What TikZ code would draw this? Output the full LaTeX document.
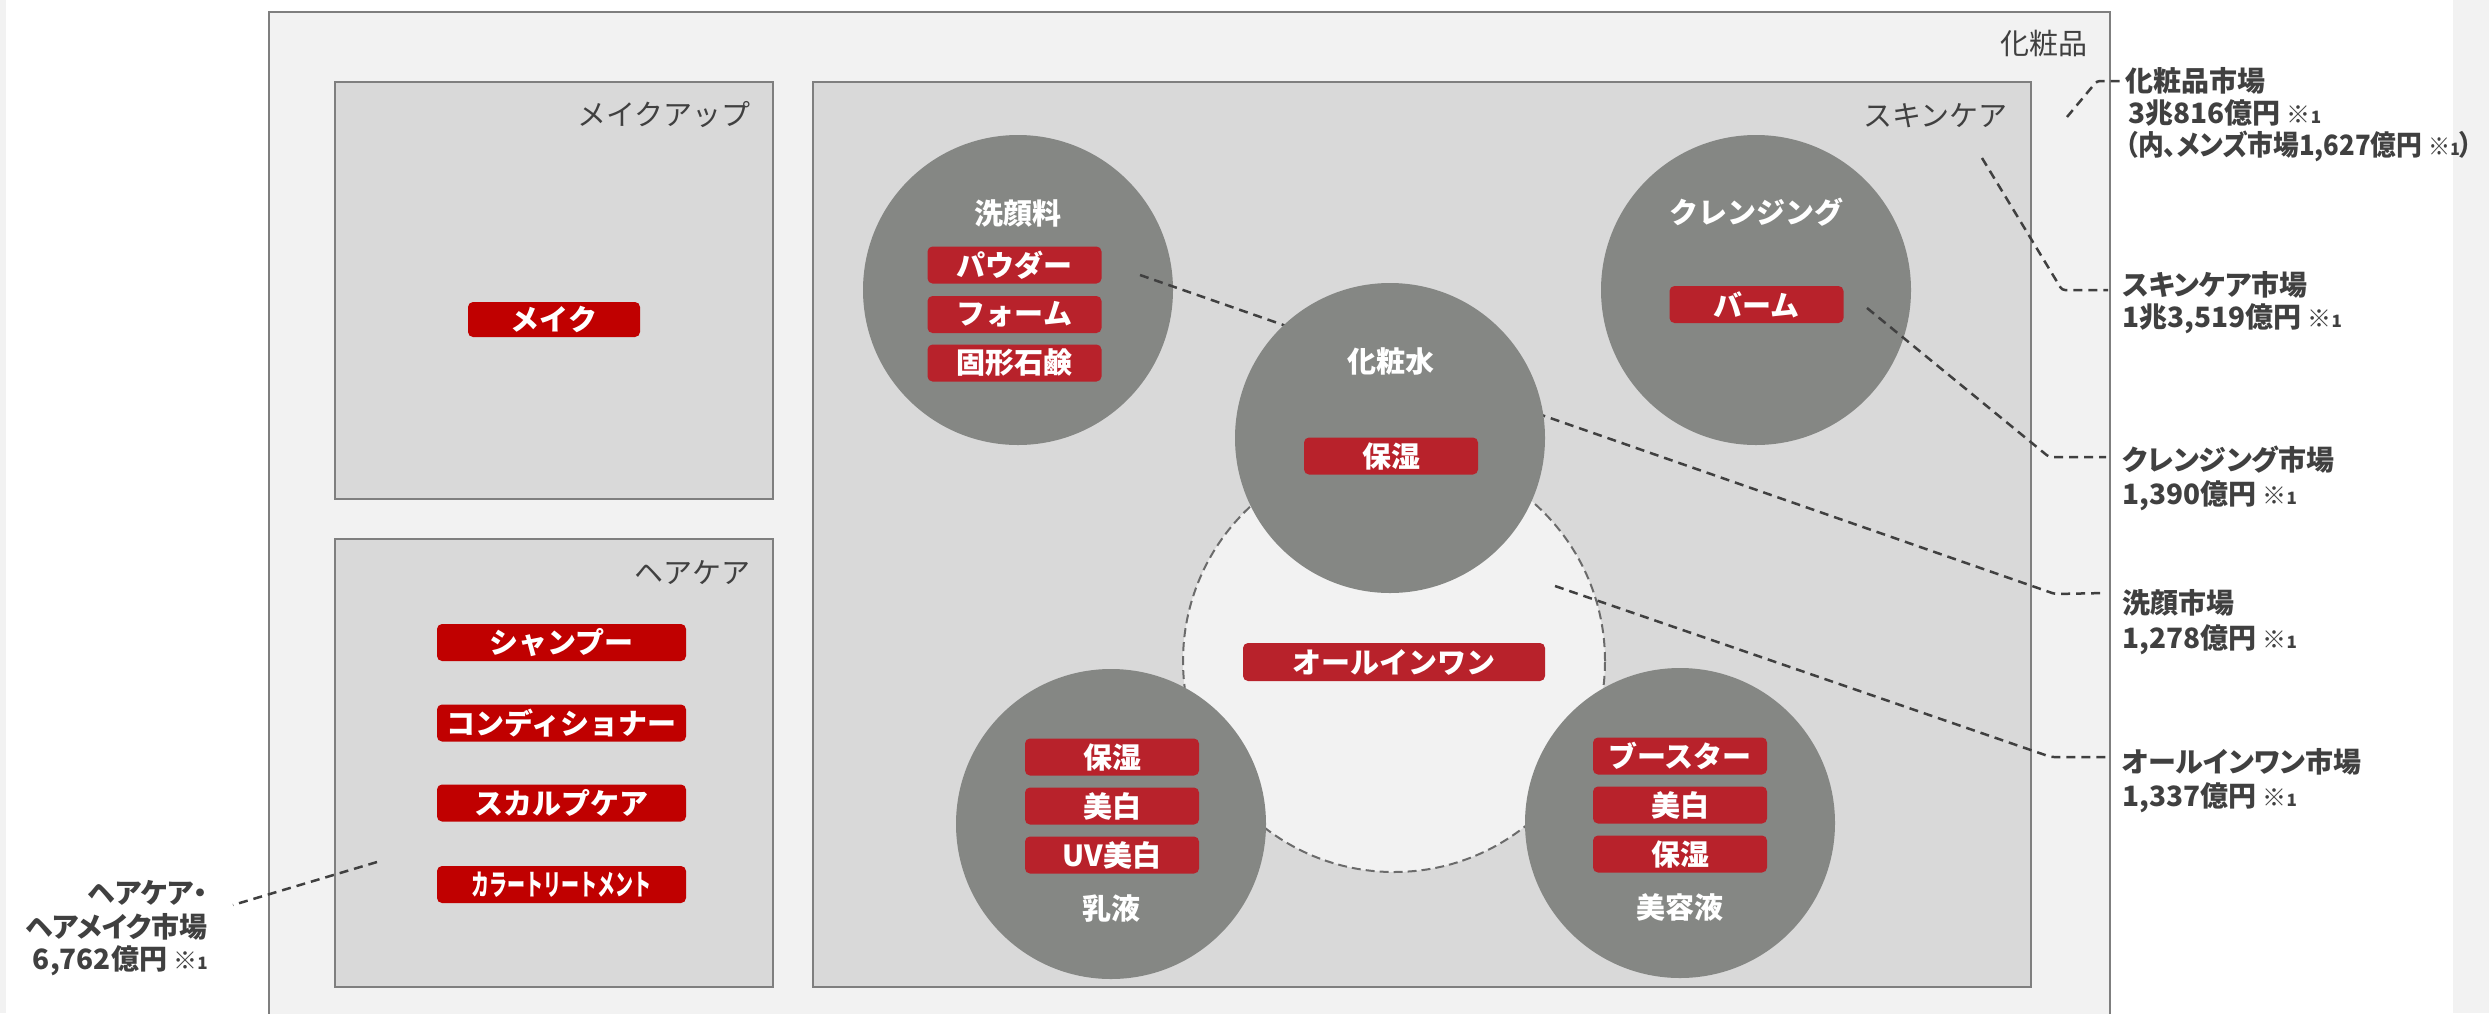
\documentclass[tikz,border=0pt]{standalone}
\usepackage{fontspec}
\usepackage{graphicx}
\setmainfont{Noto Sans CJK JP}
\newfontfamily\jpp{Noto Sans CJK JP}[RawFeature=+palt]
\definecolor{outerfill}{HTML}{F2F2F2}
\definecolor{boxfill}{HTML}{D9D9D9}
\definecolor{boxline}{HTML}{7F7F7F}
\definecolor{txtgrey}{HTML}{404040}
\definecolor{circfill}{HTML}{858784}
\definecolor{dashgrey}{HTML}{6B6B6B}
\definecolor{redA}{HTML}{B8222B}
\definecolor{redB}{HTML}{C00000}
\newcommand\kome{{\fontsize{24}{24}\selectfont ※}{\fontsize{17}{17}\selectfont 1}}
\begin{document}
\begin{tikzpicture}[x=1pt,y=-1pt,
  panel/.style={draw=boxline, line width=2.5pt, fill=boxfill, rectangle, inner sep=0pt},
  circ/.style={circle, fill=circfill, draw=none, minimum size=310pt, inner sep=0pt},
  rbox/.style={fill=redA, rounded corners=5pt, text=white, font=\bfseries\fontsize{29}{29}\selectfont, minimum width=174pt, minimum height=37pt, inner sep=0pt},
  hbox/.style={rbox, fill=redB, minimum width=249pt},
  boxlab/.style={text=txtgrey, font=\fontsize{29}{29}\selectfont, inner sep=0pt, anchor=base east},
  ctitle/.style={text=white, font=\bfseries\fontsize{29}{29}\selectfont, inner sep=0pt, anchor=base},
  mkt/.style={text=txtgrey, font=\jpp\bfseries\fontsize{28}{28}\selectfont, inner sep=0pt, anchor=base west},
  mktr/.style={mkt, anchor=base east},
  leader/.style={draw=txtgrey, line width=2.5pt, dash pattern=on 9pt off 6pt, rounded corners=3pt}]
\useasboundingbox (0,0) rectangle (2489,1013);
\clip (0,0) rectangle (2489,1013);
% background
\fill[white] (0,0) rectangle (2489,1013);
\fill[outerfill] (0,0) rectangle (6,1013);
\fill[outerfill] (2453,0) rectangle (2489,1013);
% outer box
\node[draw=boxline, line width=2pt, fill=outerfill, minimum width=1841pt, minimum height=1028pt, inner sep=0pt] (outer) at (1189.5,526) {};
\node[boxlab] (outerlab) at (2088,54) {化粧品};
% panels
\node[panel, minimum width=438pt, minimum height=417pt] (makeup) at (554,290.5) {};
\node[boxlab] (makeuplab) at (751,125) {メイクアップ};
\node[panel, minimum width=438pt, minimum height=448pt] (hair) at (554,763) {};
\node[boxlab] (hairlab) at (751,583) {ヘアケア};
\node[panel, minimum width=1218pt, minimum height=905pt] (skin) at (1422,534.5) {};
\node[boxlab] (skinlab) at (2008,126) {スキンケア};
% all-in-one dashed circle
\node[circle, draw=dashgrey, dash pattern=on 9pt off 5pt, line width=2pt, fill=outerfill, minimum size=422pt, inner sep=0pt] (allin) at (1394,661) {};
% circles
\node[circ] (sengan) at (1018,290) {};
\node[circ] (cleans) at (1756,290) {};
\node[circ] (nyueki) at (1111,824) {};
\node[circ] (biyou) at (1680,823) {};
% leader coordinates
\coordinate (lk0) at (2067,117);
\coordinate (lk1) at (2097,81);
\coordinate (lk2) at (2124,81);
\coordinate (ls0) at (1982,158);
\coordinate (ls1) at (2062,290);
\coordinate (ls2) at (2108,290);
\coordinate (lc0) at (1867,308);
\coordinate (lc1) at (2049,457);
\coordinate (lc2) at (2106,457);
\coordinate (lf0) at (1140,275);
\coordinate (lf1) at (2055,594);
\coordinate (lf2) at (2106,593);
\coordinate (la0) at (1555,586);
\coordinate (la1) at (2051,757);
\coordinate (la2) at (2106,757);
\coordinate (lh0) at (377,862);
\coordinate (lh1) at (233,905);
\draw[leader] (lk0) -- (lk1) -- (lk2);
\draw[leader] (ls0) -- (ls1) -- (ls2);
\draw[leader] (lc0) -- (lc1) -- (lc2);
\draw[leader] (lf0) -- (lf1) -- (lf2);
\draw[leader] (la0) -- (la1) -- (la2);
\draw[leader] (lh0) -- (lh1);
% toner circle on top
\node[circ] (kesho) at (1390,438) {};
% titles
\node[ctitle] (t1) at (1018,224) {洗顔料};
\node[ctitle] (t2) at (1756,223) {クレンジング};
\node[ctitle] (t3) at (1391,372) {化粧水};
\node[ctitle] (t4) at (1111,919) {乳液};
\node[ctitle] (t5) at (1680,918) {美容液};
% red boxes
\node[rbox] (b11) at (1014.5,265) {パウダー};
\node[rbox] (b12) at (1014.5,314.5) {フォーム};
\node[rbox] (b13) at (1014.5,363) {固形石鹸};
\node[rbox] (b21) at (1756.5,304.5) {バーム};
\node[rbox] (b31) at (1391,456) {保湿};
\node[rbox, minimum width=302pt, minimum height=38pt] (b41) at (1394,662) {オールインワン};
\node[rbox] (b51) at (1112,757) {保湿};
\node[rbox] (b52) at (1112,806) {美白};
\node[rbox] (b53) at (1112,855) {UV美白};
\node[rbox] (b61) at (1680,756) {ブースター};
\node[rbox] (b62) at (1680,805) {美白};
\node[rbox] (b63) at (1680,854) {保湿};
\node[hbox, minimum width=172pt, minimum height=35pt] (b71) at (554,319.5) {メイク};
\node[hbox] (b81) at (561.5,642.5) {シャンプー};
\node[hbox] (b82) at (561.5,723) {コンディショナー};
\node[hbox] (b83) at (561.5,803) {スカルプケア};
\node[hbox] (b84) at (561.5,884.5) {\scalebox{0.62}[1]{カラートリートメント}};
% market labels
\node[mkt] (m1a) at (2125,91) {化粧品市場};
\node[mkt] (m1b) at (2128,123) {3兆816億円 \kome};
\node[mkt] (m1c) at (2125,155) {\scalebox{0.92}[1]{（内、メンズ市場1,627億円 \kome）}};
\node[mkt] (m2a) at (2122,295) {スキンケア市場};
\node[mkt] (m2b) at (2122,327) {1兆3,519億円 \kome};
\node[mkt] (m3a) at (2122,470) {クレンジング市場};
\node[mkt] (m3b) at (2122,504) {1,390億円 \kome};
\node[mkt] (m4a) at (2122,613) {洗顔市場};
\node[mkt] (m4b) at (2122,648) {1,278億円 \kome};
\node[mkt] (m5a) at (2122,772) {オールインワン市場};
\node[mkt] (m5b) at (2122,806) {1,337億円 \kome};
\node[mktr] (m6a) at (208,903) {ヘアケア・};
\node[mktr] (m6b) at (208,937) {ヘアメイク市場};
\node[mktr] (m6c) at (208,969) {6,762億円 \kome};
\end{tikzpicture}
\end{document}
